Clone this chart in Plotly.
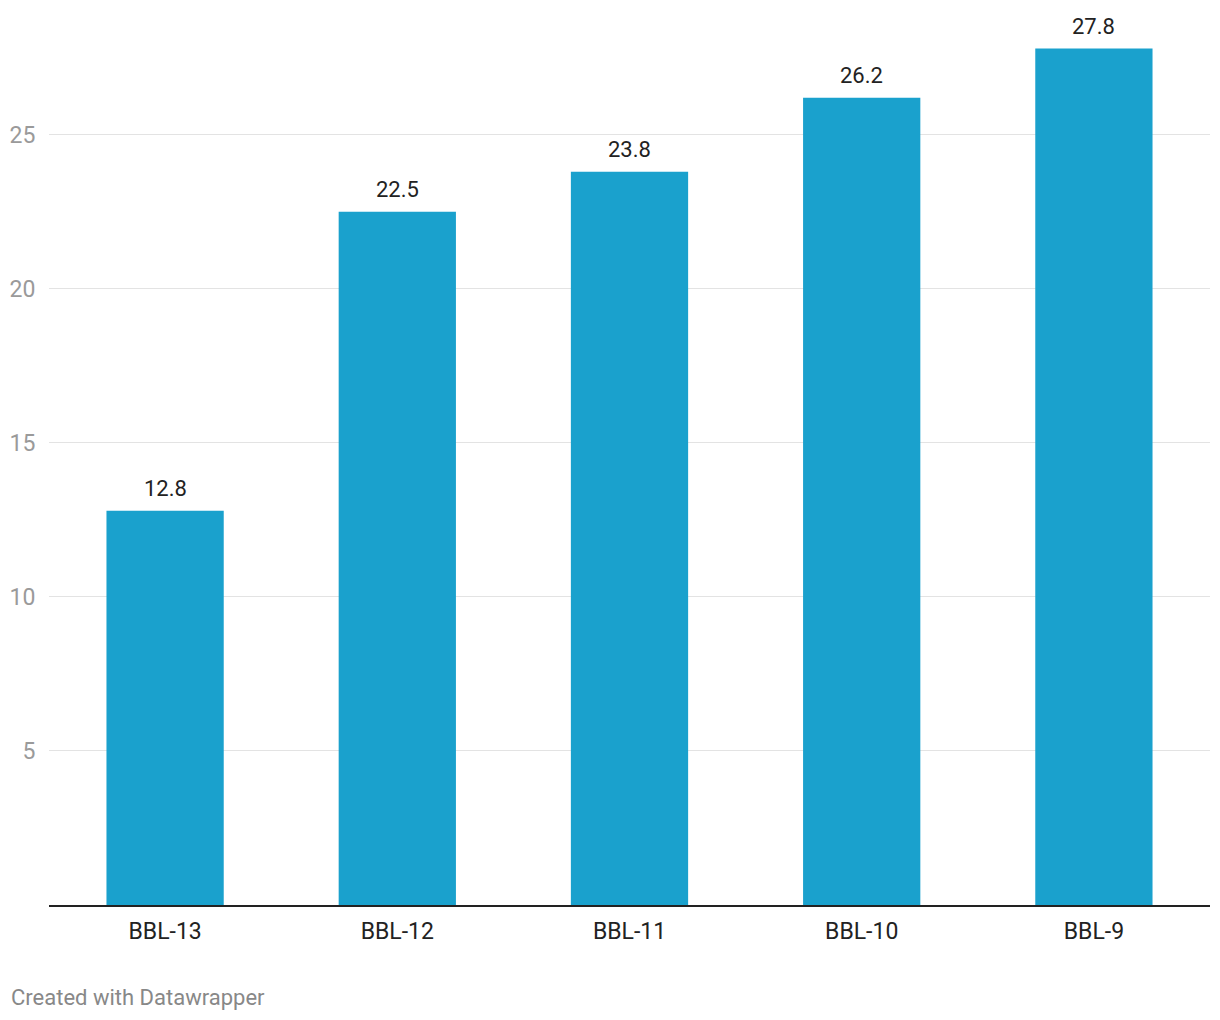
import plotly.graph_objects as go

categories = ["BBL-13", "BBL-12", "BBL-11", "BBL-10", "BBL-9"]
values = [12.8, 22.5, 23.8, 26.2, 27.8]
y_ticks = [5, 10, 15, 20, 25]

fig = go.Figure()
fig.add_trace(go.Bar(
    x=categories, y=values,
    marker=dict(color="#1aa1cd", line=dict(width=0)),
    hoverinfo="skip",
))

for c, v in zip(categories, values):
    fig.add_annotation(
        x=c, y=v, text=f"{v:.1f}", showarrow=False,
        yanchor="bottom", yshift=8,
        font=dict(family="Roboto", size=22, color="#222222"),
    )

fig.add_annotation(
    xref="paper", yref="paper", x=(8 - 48) / 1162, y=(905 - 997) / 895,
    text="Created with Datawrapper", showarrow=False,
    xanchor="left", yanchor="middle",
    font=dict(family="Roboto", size=22, color="#888888"),
)

fig.update_layout(
    width=1220, height=1020,
    margin=dict(l=49, r=10, t=10, b=115, autoexpand=False),
    paper_bgcolor="white", plot_bgcolor="white",
    bargap=0.495,
    showlegend=False,
    font=dict(family="Roboto"),
)
fig.update_xaxes(
    showgrid=False, showline=True, linecolor="#222222", linewidth=2,
    ticks="outside", ticklen=4, tickcolor="rgba(0,0,0,0)",
    tickfont=dict(family="Roboto", size=23, color="#222222"),
    automargin=False,
)
fig.update_yaxes(
    range=[0, 29.05], tickvals=y_ticks, ticktext=[str(t) for t in y_ticks],
    showgrid=True, gridcolor="#e3e3e3", gridwidth=1, zeroline=False,
    ticks="outside", ticklen=8, tickcolor="rgba(0,0,0,0)",
    tickfont=dict(family="Roboto", size=23, color="#9a9a9a"),
    automargin=False,
)

fig.write_html("out.html")
